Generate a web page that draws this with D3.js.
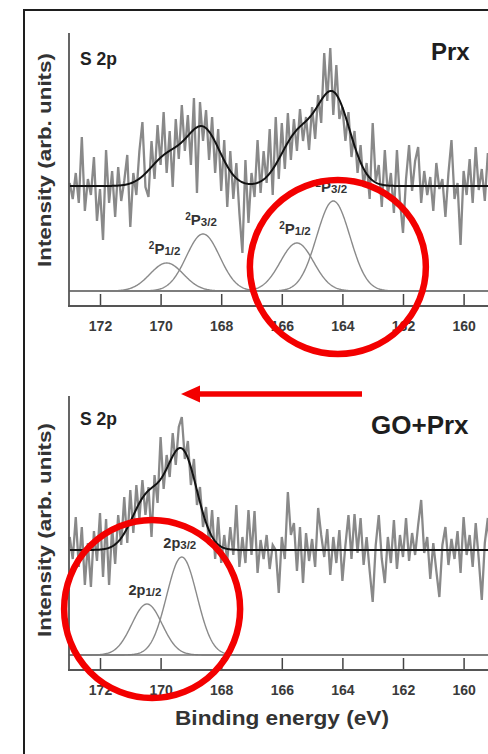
<!DOCTYPE html>
<html>
<head>
<meta charset="utf-8">
<script src="https://cdn.jsdelivr.net/npm/d3@7"></script>
<style>
  html, body { margin: 0; padding: 0; background: #fff; }
  svg { display: block; }
</style>
</head>
<body>
<svg id="chart" width="488" height="754"></svg>
<script>
// S 2p spectra, binding energy grid: 173.0 eV downwards in 0.1 eV steps
const energyStart = 173.0;
const energyStep = 0.1;

// Prx: measured counts (arb. units)
const prxCounts = [
  108, 92, 118, 88, 154, 80, 112, 96, 134, 70,
  102, 51, 141, 88, 120, 74, 124, 90, 110, 136,
  64, 118, 96, 140, 169, 104, 94, 150, 112, 166,
  126, 179, 118, 160, 104, 172, 132, 186, 140, 176,
  126, 193, 98, 189, 150, 181, 131, 174, 118, 162,
  100, 151, 84, 140, 92, 128, 78, 38, 131, 68,
  118, 94, 151, 98, 140, 108, 162, 96, 174, 112,
  168, 122, 178, 131, 172, 140, 182, 150, 174, 141,
  184, 152, 196, 168, 238, 190, 243, 176, 226, 172,
  184, 150, 179, 134, 160, 118, 146, 104, 128, 92,
  168, 110, 126, 84, 141, 96, 118, 78, 141, 90,
  58, 112, 146, 100, 130, 144, 88, 120, 96, 114,
  80, 128, 102, 112, 74, 118, 151, 92, 108, 46,
  120, 96, 132, 88, 144, 101, 122, 90, 138, 98,
  116, 84, 126
];

// GO+Prx: measured counts (arb. units)
const goPrxCounts = [
  118, 96, 138, 88, 128, 70, 112, 68, 124, 94,
  142, 78, 136, 70, 128, 91, 140, 110, 158, 112,
  165, 122, 170, 136, 175, 140, 168, 118, 180, 152,
  218, 166, 200, 178, 222, 190, 228, 238, 196, 214,
  170, 196, 150, 168, 128, 148, 110, 145, 96, 138,
  92, 120, 95, 128, 100, 150, 88, 118, 92, 145,
  100, 144, 82, 115, 96, 120, 86, 110, 105, 62,
  118, 96, 163, 120, 132, 84, 128, 72, 122, 94,
  116, 88, 147, 120, 98, 126, 80, 118, 92, 125,
  74, 110, 140, 96, 141, 102, 137, 90, 118, 84,
  53, 110, 140, 96, 72, 118, 92, 135, 86, 120,
  98, 137, 94, 122, 100, 130, 155, 102, 118, 76,
  112, 84, 58, 110, 128, 90, 116, 96, 124, 82,
  138, 100, 120, 88, 132, 96, 55, 112, 137, 90,
  118, 96, 124
];

// Fitted components: centre (eV), height, width sigma (eV)
const prxPeaks = [
  { centre: 169.8, height: 28, sigma: 0.55, term: "1/2" },
  { centre: 168.6, height: 57, sigma: 0.55, term: "3/2" },
  { centre: 165.5, height: 48, sigma: 0.55, term: "1/2" },
  { centre: 164.3, height: 90, sigma: 0.55, term: "3/2" }
];
const goPrxPeaks = [
  { centre: 170.45, height: 51, sigma: 0.5, term: "1/2" },
  { centre: 169.3, height: 98, sigma: 0.5, term: "3/2" }
];

// level of the envelope's flat background above the component baseline
const envelopeOffset = 105;

const xTickValues = [172, 170, 168, 166, 164, 162, 160];
const panelTitles = ["Prx", "GO+Prx"];

const FONT = "'Liberation Sans', Arial, Helvetica, sans-serif";
const svg = d3.select("#chart");

// outer frame
svg.append("rect")
  .attr("x", 24).attr("y", 10)
  .attr("width", 600).attr("height", 900)
  .attr("fill", "none").attr("stroke", "#1e1e1e").attr("stroke-width", 2);

const x = d3.scaleLinear().domain([173, 158]).range([69.7, 524.2]);

const panels = [
  { counts: prxCounts, peaks: prxPeaks, title: panelTitles[0], top: 33, axisY: 306,
    titleX: 431, titleY: 60, titleSize: 24, labelStyle: "upper", yLabelCentre: 160 },
  { counts: goPrxCounts, peaks: goPrxPeaks, title: panelTitles[1], top: 396, axisY: 670,
    titleX: 371, titleY: 434, titleSize: 26, labelStyle: "lower", yLabelCentre: 530 }
];

function gauss(e, p) {
  const d = e - p.centre;
  return p.height * Math.exp(-(d * d) / (2 * p.sigma * p.sigma));
}

const fineGrid = d3.range(173, 157.99, -0.02);

panels.forEach(panel => {
  const g = svg.append("g");
  const baseY = panel.axisY - 15;
  const y = d3.scaleLinear().domain([0, 250]).range([baseY, baseY - 250]);

  // measured spectrum
  const pts = panel.counts.map((c, i) => ({ e: energyStart - i * energyStep, v: c }));
  g.append("path")
    .datum(pts)
    .attr("fill", "none")
    .attr("stroke", "#898989")
    .attr("stroke-width", 2.3)
    .attr("stroke-linejoin", "miter")
    .attr("d", d3.line().x(d => x(d.e)).y(d => y(d.v)));

  // components
  panel.peaks.forEach(p => {
    g.append("path")
      .datum(fineGrid)
      .attr("fill", "none")
      .attr("stroke", "#8a8a8a")
      .attr("stroke-width", 1.4)
      .attr("d", d3.line().x(e => x(e)).y(e => y(gauss(e, p))));
  });

  // envelope
  g.append("path")
    .datum(fineGrid)
    .attr("fill", "none")
    .attr("stroke", "#111")
    .attr("stroke-width", 2)
    .attr("d", d3.line()
      .x(e => x(e))
      .y(e => y(envelopeOffset + d3.sum(panel.peaks, p => gauss(e, p)))));

  // component labels
  panel.peaks.forEach(p => {
    const t = g.append("text")
      .attr("x", x(p.centre) - 2)
      .attr("y", y(p.height) - 9)
      .attr("text-anchor", "middle")
      .attr("font-family", FONT)
      .attr("font-weight", "bold")
      .attr("fill", "#333");
    if (panel.labelStyle === "upper") {
      t.append("tspan").attr("font-size", 10).attr("dy", -5).text("2");
      t.append("tspan").attr("font-size", 15).attr("dy", 5).text("P");
      t.append("tspan").attr("font-size", 11.5).attr("dy", 1).text(p.term);
    } else {
      t.append("tspan").attr("font-size", 14.5).text("2p");
      t.append("tspan").attr("font-size", 11.5).attr("dy", 1).text(p.term);
    }
  });

  // component baseline and x axis band
  g.append("line")
    .attr("x1", 69).attr("x2", 488).attr("y1", baseY).attr("y2", baseY)
    .attr("stroke", "#777").attr("stroke-width", 1.5);

  const axis = d3.axisBottom(x).tickValues(xTickValues).tickSize(-12)
    .tickFormat(d3.format("d")).tickPadding(17);
  const ax = g.append("g").attr("transform", `translate(0,${panel.axisY})`).call(axis);
  ax.select(".domain").remove();
  ax.selectAll(".tick line").attr("stroke", "#444").attr("stroke-width", 1.5);
  ax.selectAll(".tick text")
    .attr("font-family", FONT).attr("font-size", 14).attr("font-weight", "bold")
    .attr("fill", "#3a3a3a").attr("dy", 0).attr("y", 25);
  g.append("line")
    .attr("x1", 68).attr("x2", 488).attr("y1", panel.axisY).attr("y2", panel.axisY)
    .attr("stroke", "#555").attr("stroke-width", 1.8);

  // y axis line
  g.append("line")
    .attr("x1", 69).attr("x2", 69).attr("y1", panel.top).attr("y2", panel.axisY)
    .attr("stroke", "#555").attr("stroke-width", 1.8);

  g.append("text")
    .attr("transform", `translate(44,${panel.yLabelCentre}) rotate(-90)`)
    .attr("text-anchor", "middle")
    .attr("dominant-baseline", "central")
    .attr("font-family", FONT).attr("font-weight", "bold").attr("font-size", 19)
    .attr("textLength", 214).attr("lengthAdjust", "spacingAndGlyphs")
    .attr("fill", "#333")
    .text("Intensity (arb. units)");

  g.append("text")
    .attr("x", 80).attr("y", panel.top + (panel.title === "Prx" ? 32 : 29))
    .attr("font-family", FONT).attr("font-weight", "bold").attr("font-size", 17.5)
    .attr("fill", "#222")
    .text("S 2p");

  g.append("text")
    .attr("x", panel.titleX).attr("y", panel.titleY)
    .attr("font-family", FONT).attr("font-weight", "bold").attr("font-size", panel.titleSize)
    .attr("fill", "#1e1e1e")
    .text(panel.title);
});

svg.append("text")
  .attr("x", 282).attr("y", 725)
  .attr("text-anchor", "middle")
  .attr("font-family", FONT).attr("font-weight", "bold").attr("font-size", 20)
  .attr("textLength", 214).attr("lengthAdjust", "spacingAndGlyphs")
  .attr("fill", "#333")
  .text("Binding energy (eV)");

// red highlights: the S 2p doublet in each sample and the shift between them
const red = "#f30000";
svg.append("ellipse")
  .attr("cx", x(164.15)).attr("cy", 267).attr("rx", 88).attr("ry", 87)
  .attr("fill", "none").attr("stroke", red).attr("stroke-width", 6.5);
svg.append("ellipse")
  .attr("cx", x(170.28)).attr("cy", 609).attr("rx", 88).attr("ry", 89)
  .attr("fill", "none").attr("stroke", red).attr("stroke-width", 6.5);
svg.append("line")
  .attr("x1", 362).attr("x2", 195).attr("y1", 394).attr("y2", 394)
  .attr("stroke", red).attr("stroke-width", 5.5);
svg.append("path")
  .attr("d", "M181,394 L200,385.5 L200,402.5 Z")
  .attr("fill", red);
</script>
</body>
</html>
